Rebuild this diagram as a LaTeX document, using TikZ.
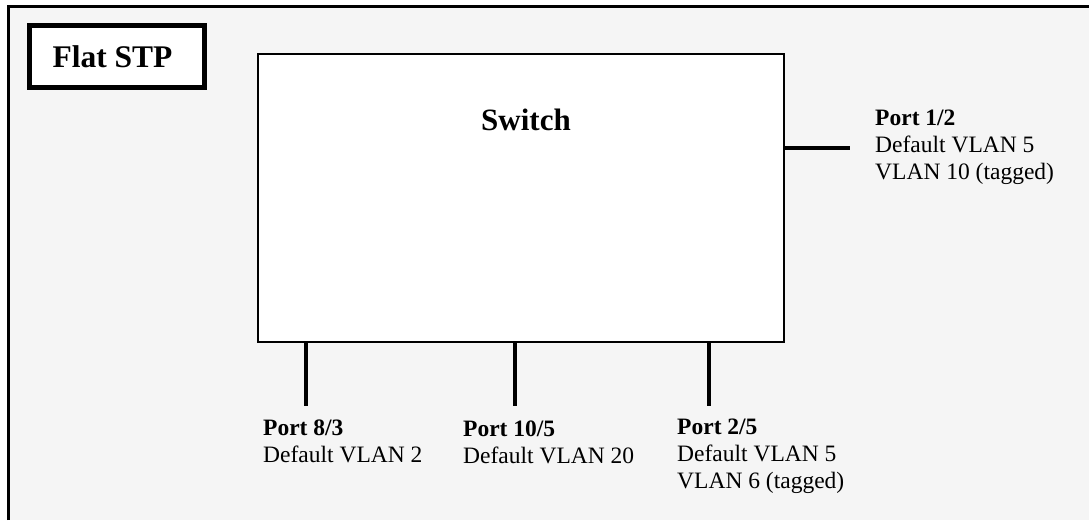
\documentclass[tikz,border=0pt]{standalone}
\usepackage{fontspec}
\setmainfont{Liberation Serif}
\definecolor{bggray}{HTML}{F5F5F5}
\tikzset{
  frameline/.style={line width=3pt},
  titlebox/.style={draw, line width=5pt, fill=white, minimum width=175pt, minimum height=62pt, inner sep=0pt, font=\fontsize{31.5}{36}\selectfont\bfseries},
  switchbox/.style={draw, line width=2pt, fill=white, minimum width=526pt, minimum height=288pt, inner sep=0pt},
  switchlabel/.style={font=\fontsize{31}{36}\selectfont\bfseries, anchor=base, inner sep=0pt},
  portline/.style={line width=4pt},
  portlabel/.style={anchor=base west, inner sep=0pt, font=\fontsize{23.5}{27}\selectfont}
}
\newcommand{\portlines}[1]{\begin{tabular}[t]{@{}l@{}}#1\end{tabular}}
\begin{document}
\begin{tikzpicture}[x=1pt,y=-1pt]
\useasboundingbox (0,0) rectangle (1089,520);
\fill[bggray] (8.5,6.5) rectangle (1089,520);
\draw[frameline] (8.5,520) -- (8.5,6.5) -- (1089,6.5);

\node[titlebox] (title) at (117,56.5) {\hspace*{-9pt}Flat STP};

\node[switchbox] (sw) at (521,198) {};
\node[switchlabel] (swl) at (526,130) {Switch};

\coordinate (p12) at (850,148);
\coordinate (p83) at (306,406);
\coordinate (p105) at (514.5,406);
\coordinate (p25) at (709,406);

\draw[portline] (sw.east |- p12) -- (p12);
\draw[portline] (p83 |- sw.south) -- (p83);
\draw[portline] (p105 |- sw.south) -- (p105);
\draw[portline] (p25 |- sw.south) -- (p25);

\renewcommand{\arraystretch}{1}
\setlength{\tabcolsep}{0pt}
\node[portlabel] (l12) at (875,125) {\portlines{\textbf{Port 1/2}\\Default VLAN 5\\VLAN 10 (tagged)}};
\node[portlabel] (l83) at (263,435) {\portlines{\textbf{Port 8/3}\\Default VLAN 2}};
\node[portlabel] (l105) at (463,436) {\portlines{\textbf{Port 10/5}\\Default VLAN 20}};
\node[portlabel] (l25) at (677,434) {\portlines{\textbf{Port 2/5}\\Default VLAN 5\\VLAN 6 (tagged)}};
\end{tikzpicture}
\end{document}
